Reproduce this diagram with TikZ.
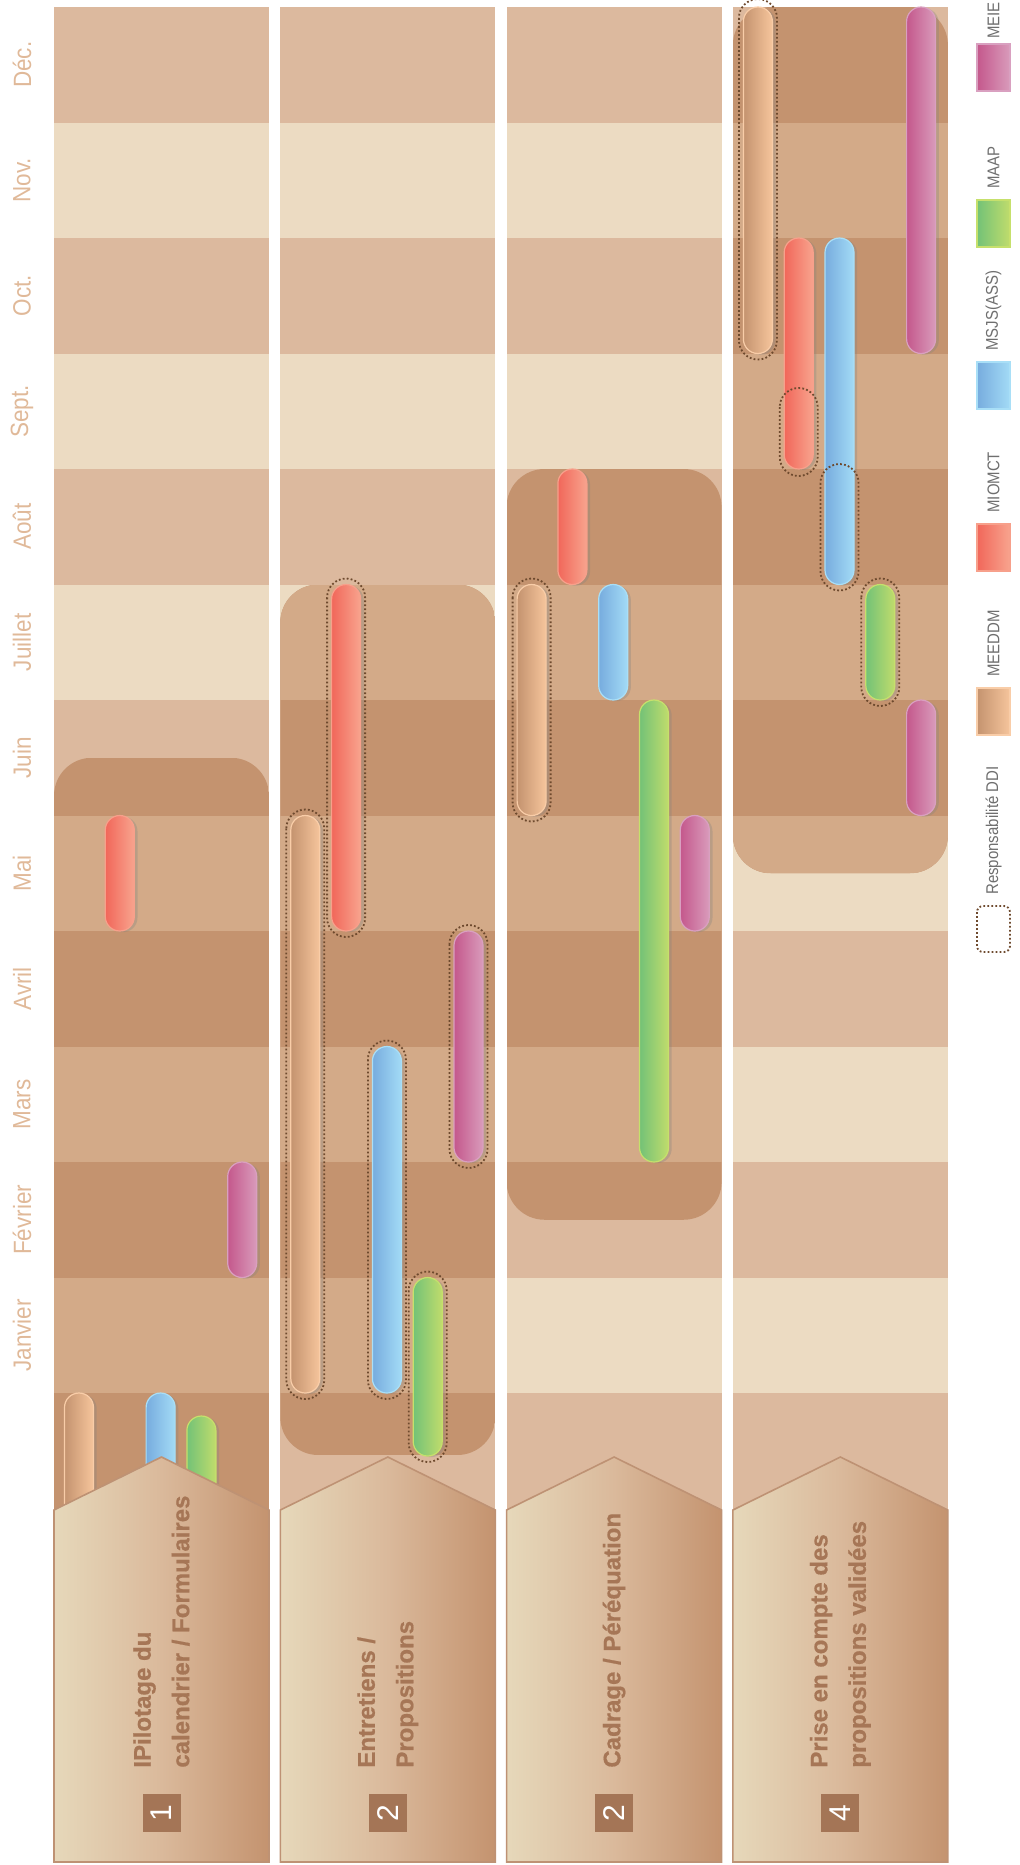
\documentclass[tikz,border=0pt]{standalone}
\usepackage{fontspec}
\setmainfont{Liberation Sans}
\newfontfamily\narrowsans[FakeStretch=0.9]{Liberation Sans}
\newfontfamily\legendsans[FakeStretch=0.88]{Liberation Sans}
\newfontfamily\titlesans[BoldFeatures={FakeBold=0.6}]{Liberation Sans}
\usetikzlibrary{shadows}
\definecolor{bandlight}{HTML}{ECDBC2}
\definecolor{bandmid}{HTML}{DCB99E}
\definecolor{hidark}{HTML}{C4936F}
\definecolor{hilight}{HTML}{D3AA88}
\definecolor{headleft}{HTML}{E6D8BA}
\definecolor{headmid}{HTML}{DAB99B}
\definecolor{headright}{HTML}{C4936F}
\definecolor{headline}{HTML}{BE9274}
\definecolor{titlebrown}{HTML}{A67656}
\definecolor{numbrown}{HTML}{A47556}
\definecolor{monthtext}{HTML}{E0B999}
\definecolor{legendgray}{HTML}{6F6F6F}
\definecolor{dditrace}{HTML}{6E4A2E}
% bar colours (left, right, edge)
\definecolor{meeddmA}{HTML}{C4936F}\definecolor{meeddmB}{HTML}{F6C59C}\definecolor{meeddmE}{HTML}{F9CDA8}
\definecolor{miomctA}{HTML}{F1675A}\definecolor{miomctB}{HTML}{F8A48E}\definecolor{miomctE}{HTML}{F7A08B}
\definecolor{msjsA}{HTML}{77ACDE}\definecolor{msjsB}{HTML}{A3DBF6}\definecolor{msjsE}{HTML}{A9DFF7}
\definecolor{maapA}{HTML}{73C277}\definecolor{maapB}{HTML}{C0DC6C}\definecolor{maapE}{HTML}{C6E06C}
\definecolor{meieA}{HTML}{C4588C}\definecolor{meieB}{HTML}{D99BBB}\definecolor{meieE}{HTML}{D9A0C0}

\begin{document}
\begin{tikzpicture}[
    x=0.5pt, y=-0.5pt,
    gbar/.style={rounded corners=7.25pt,line width=0.6pt,
      drop shadow={shadow xshift=1.6pt,shadow yshift=-0.6pt,opacity=.3}},
    meeddm/.style={draw=meeddmE,left color=meeddmA,right color=meeddmB},
    miomct/.style={draw=miomctE,left color=miomctA,right color=miomctB},
    msjs/.style={draw=msjsE,left color=msjsA,right color=msjsB},
    maap/.style={draw=maapE,left color=maapA,right color=maapB},
    meie/.style={draw=meieE,left color=meieA,right color=meieB},
    ddiring/.style={draw=dditrace,line width=0.9pt,dash pattern=on 0.9pt off 1.1pt,rounded corners=9.5pt},
    header/.style={draw=headline,line width=0.8pt,left color=headleft,right color=headright,middle color=headmid},
    title/.style={rotate=90,anchor=west,align=left,inner sep=0pt,text=titlebrown,
      font=\titlesans\bfseries\fontsize{12}{19.25}\selectfont},
    numbox/.style={rotate=90,fill=numbrown,text=white,minimum size=19pt,inner sep=0pt,
      font=\fontsize{15}{15}\selectfont},
    monthlabel/.style={rotate=90,text=monthtext,inner sep=0pt,font=\narrowsans\fontsize{12.5}{12.5}\selectfont},
    legtext/.style={rotate=90,anchor=west,inner sep=0pt,text=legendgray,font=\legendsans\fontsize{8.5}{8.5}\selectfont}
  ]
  \useasboundingbox (0,0) rectangle (1019,1865);

  % lane backgrounds and highlighted periods
  \foreach \lane/\hitop/\hibot in {1/757.75/1600,2/584.5/1455,3/469/1219.75,4/7/873.25}{
    \pgfmathsetmacro\lx{54+(\lane-1)*226.3}
    \pgfmathsetmacro\lr{\lx+215}
    \fill[bandmid] (\lx,7) rectangle (\lr,1540);
    \foreach \j in {1,3,...,11}
      \fill[bandlight] (\lx,{7+\j*115.5}) rectangle (\lr,{7+(\j+1)*115.5});
    \begin{scope}
      \clip[rounded corners=19pt] (\lx,\hitop) rectangle (\lr,\hibot);
      \fill[hidark] (\lx,\hitop) rectangle (\lr,\hibot);
      \foreach \j in {1,3,...,11}
        \fill[hilight] (\lx,{7+\j*115.5}) rectangle (\lr,{7+(\j+1)*115.5});
    \end{scope}
  }

  % bars
  \foreach \lane/\col/\ytop/\ybot/\kind in {
      1/0/1393/1560/meeddm, 1/1/815.5/931/miomct, 1/2/1393/1560/msjs, 1/3/1416/1560/maap, 1/4/1162/1277.5/meie,
      2/0/815.5/1393/meeddm, 2/1/584.5/931/miomct, 2/2/1046.5/1393/msjs, 2/3/1277.5/1456/maap, 2/4/931/1162/meie,
      3/0/584.5/815.5/meeddm, 3/1/469/584.5/miomct, 3/2/584.5/700/msjs, 3/3/700/1162/maap, 3/4/815.5/931/meie,
      4/0/7/353.5/meeddm, 4/1/238/469/miomct, 4/2/238/584.5/msjs, 4/3/584.5/700/maap, 4/4/7/353.5/meie,
      4/4/700/815.5/meie}{
    \pgfmathsetmacro\bx{54+(\lane-1)*226.3+10.5+\col*40.8}
    \pgfmathsetmacro\bxr{\bx+29}
    \draw[gbar,\kind] (\bx,\ytop) rectangle (\bxr,\ybot);
  }

  % DDI responsibility
  \foreach \lane/\col/\ytop/\ybot in {
      2/0/815.5/1393, 2/1/584.5/931, 2/2/1046.5/1393, 2/3/1277.5/1456, 2/4/931/1162,
      3/0/584.5/815.5, 4/0/5/353.5, 4/1/394/470, 4/2/470/584.5, 4/3/584.5/700}{
    \pgfmathsetmacro\rx{54+(\lane-1)*226.3+10.5+\col*40.8-4.5}
    \pgfmathsetmacro\rxr{\rx+38}
    \draw[ddiring] (\rx,\ytop-6) rectangle (\rxr,\ybot+6);
  }

  % headers
  \foreach \lane in {1,...,4}{
    \pgfmathsetmacro\lx{54+(\lane-1)*226.3}
    \pgfmathsetmacro\lc{\lx+107.5}
    \pgfmathsetmacro\lr{\lx+215}
    \draw[header] (\lx,1510) -- (\lc,1457) -- (\lr,1510) -- (\lr,1862) -- (\lx,1862) -- cycle;
  }
  \node[title] (title1) at (161.5,1768) {IPilotage du\\calendrier / Formulaires};
  \node[title] (title2) at (387.8,1768) {Entretiens /\\Propositions};
  \node[title] (title3) at (614.1,1768) {Cadrage / Péréquation};
  \node[title] (title4) at (840.4,1768) {Prise en compte des\\propositions validées};
  \node[numbox] (num1) at (161.5,1813) {1};
  \node[numbox] (num2) at (387.8,1813) {2};
  \node[numbox] (num3) at (614.1,1813) {2};
  \node[numbox] (num4) at (840.4,1813) {4};

  % months
  \foreach \m/\name in {0/Déc.,1/Nov.,2/Oct.,3/Sept.,4/Août,5/Juillet,6/Juin,7/Mai,8/Avril,9/Mars,10/Février,11/Janvier}
    \node[monthlabel] (month\m) at (22,{64.75+\m*115.5}) {\name};

  % legend
  \foreach \kind/\name/\ytop/\gap [count=\i] in {meie/MEIE/44/5, maap/MAAP/200/11, msjs/{MSJS(ASS)}/362/11,
      miomct/MIOMCT/524/11, meeddm/MEEDDM/688/11}{
    \draw[\kind,line width=0.8pt] (977,\ytop) rectangle (1010,\ytop+47);
    \node[legtext] (leg\i) at (993.5,\ytop-\gap) {\name};
  }
  \draw[ddiring,rounded corners=3pt] (977,906) rectangle (1010,952);
  \node[legtext] (legddi) at (993.5,895) {Responsabilité DDI};
\end{tikzpicture}
\end{document}
